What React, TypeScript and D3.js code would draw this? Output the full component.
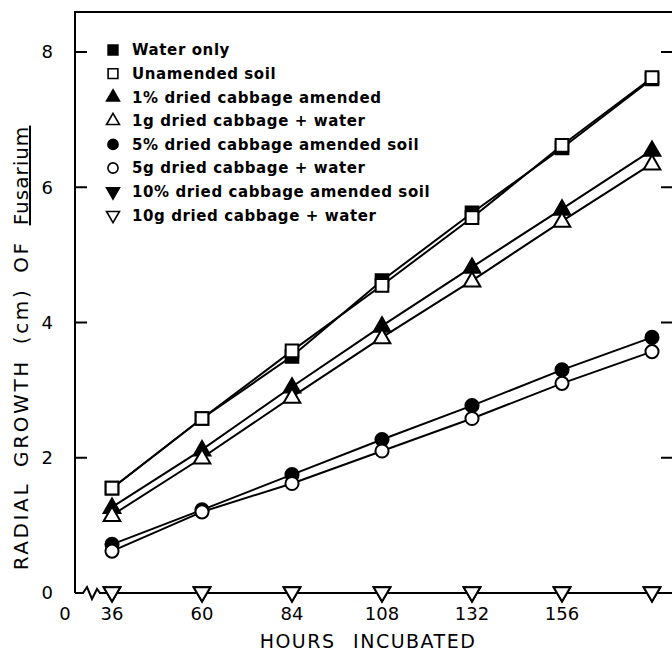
import React, { useRef, useEffect } from 'react';
import * as d3 from 'd3';

// hours incubated
const hours = [36, 60, 84, 108, 132, 156, 180];
const xTickLabels = [36, 60, 84, 108, 132, 156];
const yTicks = [0, 2, 4, 6, 8];

// radial growth (cm)
const waterOnly = [1.55, 2.58, 3.5, 4.62, 5.62, 6.58, 7.6];
const unamendedSoil = [1.55, 2.58, 3.58, 4.55, 5.55, 6.62, 7.62];
const cabbage1Amended = [1.27, 2.12, 3.05, 3.95, 4.82, 5.68, 6.55];
const cabbage1gWater = [1.15, 2.0, 2.9, 3.78, 4.62, 5.5, 6.35];
const cabbage5Amended = [0.72, 1.23, 1.75, 2.27, 2.77, 3.3, 3.78];
const cabbage5gWater = [0.62, 1.2, 1.62, 2.1, 2.58, 3.1, 3.57];
const cabbage10Amended = [0, 0, 0, 0, 0, 0, 0];
const cabbage10gWater = [0, 0, 0, 0, 0, 0, 0];

const seriesNames = [
  'Water only',
  'Unamended soil',
  '1% dried cabbage amended',
  '1g dried cabbage + water',
  '5% dried cabbage amended soil',
  '5g dried cabbage + water',
  '10% dried cabbage amended soil',
  '10g dried cabbage + water',
];

const App = () => {
  const ref = useRef(null);

  useEffect(() => {
    const font = "'DejaVu Sans', sans-serif";

    const svgEl = d3.select(ref.current);
    svgEl.selectAll('*').remove();
    const svg = svgEl.append('g');

    const x = d3.scaleLinear().domain([36, 180]).range([112, 652]);
    const y = d3.scaleLinear().domain([0, 8]).range([593, 52]);
    const axisX = 75, topY = 12, rightX = 673;

    // symbol types
    const tri = d3.symbolTriangle;
    const series = [
      { values: waterOnly, shape: d3.symbolSquare, filled: true, size: 160, rot: 0 },
      { values: unamendedSoil, shape: d3.symbolSquare, filled: false, size: 160, rot: 0 },
      { values: cabbage1Amended, shape: tri, filled: true, size: 120, rot: 0 },
      { values: cabbage1gWater, shape: tri, filled: false, size: 120, rot: 0 },
      { values: cabbage5Amended, shape: d3.symbolCircle, filled: true, size: 135, rot: 0 },
      { values: cabbage5gWater, shape: d3.symbolCircle, filled: false, size: 135, rot: 0 },
      { values: cabbage10Amended, shape: tri, filled: true, size: 120, rot: 180 },
      { values: cabbage10gWater, shape: tri, filled: false, size: 120, rot: 180 },
    ];

    // frame
    svg.append('path')
      .attr('d', `M ${axisX} ${y(0)} L ${axisX} ${topY} L ${rightX} ${topY}`)
      .attr('fill', 'none')
      .attr('stroke', 'black')
      .attr('stroke-width', 2);

    // x axis with break
    const zig = d3.line()([
      [axisX, y(0)], [83, y(0)], [87, y(0) - 6], [92, y(0) + 6], [97, y(0) - 4], [100, y(0)], [rightX, y(0)],
    ]);
    svg.append('path')
      .attr('d', zig)
      .attr('fill', 'none')
      .attr('stroke', 'black')
      .attr('stroke-width', 2);

    // y ticks, left and right, pointing in
    yTicks.filter(d => d > 0).forEach(d => {
      svg.append('line')
        .attr('x1', axisX).attr('x2', axisX + 12)
        .attr('y1', y(d)).attr('y2', y(d))
        .attr('stroke', 'black').attr('stroke-width', 2);
      svg.append('line')
        .attr('x1', rightX - 12).attr('x2', rightX)
        .attr('y1', y(d)).attr('y2', y(d))
        .attr('stroke', 'black').attr('stroke-width', 2);
    });

    svg.selectAll('text.ytick')
      .data(yTicks)
      .enter().append('text')
      .attr('class', 'ytick')
      .attr('x', 53)
      .attr('y', d => y(d))
      .attr('dy', '0.36em')
      .attr('text-anchor', 'end')
      .style('font-family', font)
      .style('font-size', '18px')
      .text(d => d);

    svg.selectAll('text.xtick')
      .data(xTickLabels)
      .enter().append('text')
      .attr('class', 'xtick')
      .attr('x', d => x(d))
      .attr('y', 620)
      .attr('text-anchor', 'middle')
      .style('font-family', font)
      .style('font-size', '18px')
      .text(d => d);

    svg.append('text')
      .attr('x', 65).attr('y', 620)
      .attr('text-anchor', 'middle')
      .style('font-family', font)
      .style('font-size', '18px')
      .text('0');

    // axis titles
    svg.append('text')
      .attr('x', 368).attr('y', 648)
      .attr('text-anchor', 'middle')
      .style('font-family', font)
      .style('font-size', '19px')
      .style('letter-spacing', '1.5px')
      .style('word-spacing', '10px')
      .text('HOURS INCUBATED');

    const yt = svg.append('text')
      .attr('transform', `translate(28, 348) rotate(-90)`)
      .attr('text-anchor', 'middle')
      .style('font-family', font)
      .style('font-size', '20px')
      .style('letter-spacing', '2.6px')
      .style('word-spacing', '6px');
    yt.append('tspan').text('RADIAL GROWTH (cm) OF ');
    yt.append('tspan').attr('text-decoration', 'underline').style('letter-spacing', '1px').text('Fusarium');

    // lines
    const line = d3.line()
      .x((d, i) => x(hours[i]))
      .y(d => y(d));

    series.forEach(s => {
      svg.append('path')
        .attr('d', line(s.values))
        .attr('fill', 'none')
        .attr('stroke', 'black')
        .attr('stroke-width', 2);
    });

    // markers
    series.forEach(s => {
      const sym = d3.symbol().type(s.shape).size(s.size);
      svg.selectAll(null)
        .data(s.values)
        .enter().append('path')
        .attr('d', sym)
        .attr('transform', (d, i) => `translate(${x(hours[i])},${y(d) + (s.shape === tri ? (s.rot ? -1 : 1) : 0)}) rotate(${s.rot})`)
        .attr('fill', s.filled ? 'black' : 'white')
        .attr('stroke', 'black')
        .attr('stroke-width', 2);
    });

    // legend
    const legend = svg.append('g').attr('transform', 'translate(113, 50)');
    series.forEach((s, i) => {
      const sym = d3.symbol().type(s.shape).size(s.size * 0.6);
      legend.append('path')
        .attr('d', sym)
        .attr('transform', `translate(0, ${i * 23.6}) rotate(${s.rot})`)
        .attr('fill', s.filled ? 'black' : 'white')
        .attr('stroke', 'black')
        .attr('stroke-width', 1.6);
      legend.append('text')
        .attr('x', 19)
        .attr('y', i * 23.6)
        .attr('dy', '0.36em')
        .style('font-family', font)
        .style('font-size', '15px')
        .style('font-weight', 'bold')
        .style('letter-spacing', '0.6px')
        .text(seriesNames[i]);
    });
  }, []);

  return (
    <svg ref={ref} width={672} height={664}
      style={{ position: 'absolute', left: 0, top: 0, background: 'white' }} />
  );
};

export default App;
